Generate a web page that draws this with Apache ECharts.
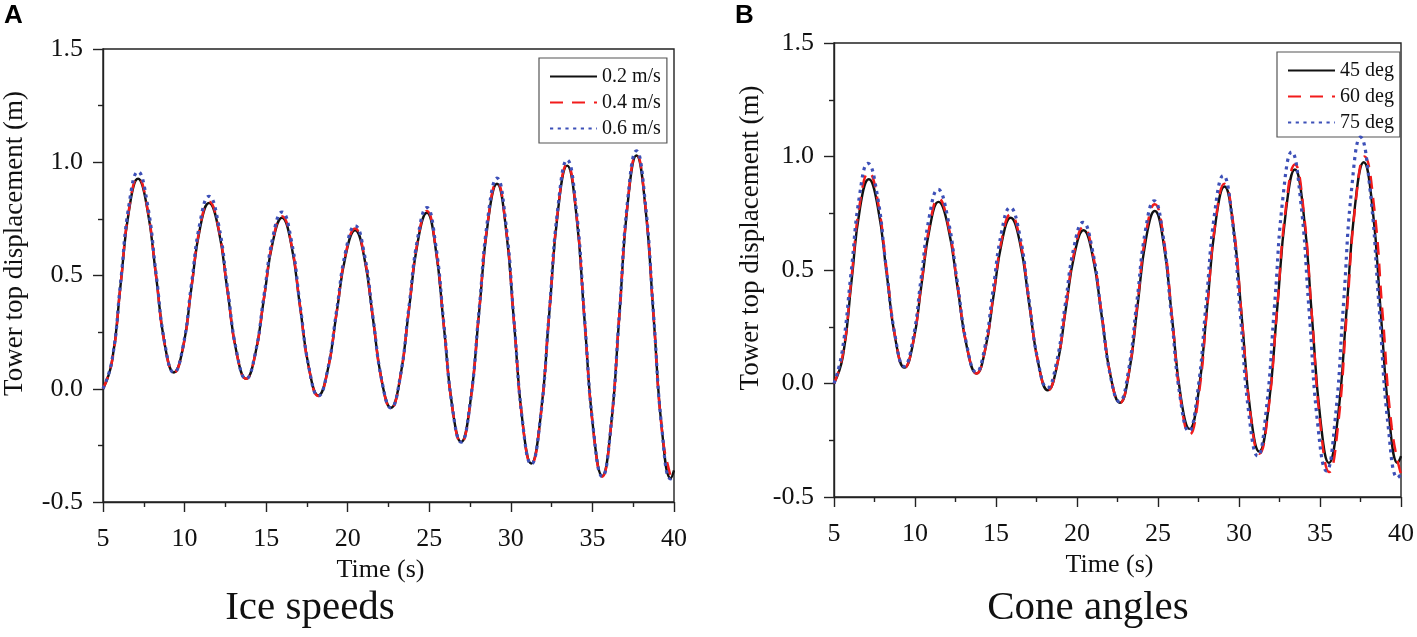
<!DOCTYPE html>
<html>
<head>
<meta charset="utf-8">
<script src="https://cdn.jsdelivr.net/npm/echarts@6/dist/echarts.min.js"></script>
<style>
html,body{margin:0;padding:0;background:#fff;}
#chart{width:1417px;height:637px;}
</style>
</head>
<body>
<div id="chart"></div>
<script>
// ---- Panel A: ice speeds ----
const tA = [5.0, 5.55, 6.08, 6.6, 7.15, 7.7, 8.25, 8.8, 9.35, 9.9, 10.42, 10.95, 11.5, 12.07, 12.63, 13.2, 13.77, 14.32, 14.87, 15.42, 15.97, 16.53, 17.08, 17.64, 18.2, 18.76, 19.32, 19.89, 20.45, 21.0, 21.55, 22.1, 22.65, 23.2, 23.75, 24.3, 24.85, 25.37, 25.9, 26.42, 26.95, 27.5, 28.05, 28.6, 29.15, 29.67, 30.2, 30.72, 31.25, 31.8, 32.35, 32.9, 33.45, 33.99, 34.52, 35.06, 35.6, 36.12, 36.65, 37.17, 37.7, 38.22, 38.75, 39.27, 39.8, 40.0];
const yA02 = [0.0, 0.12, 0.46, 0.79, 0.927, 0.80, 0.50, 0.19, 0.072, 0.18, 0.446, 0.71, 0.82, 0.707, 0.432, 0.155, 0.044, 0.148, 0.40, 0.652, 0.755, 0.64, 0.362, 0.085, -0.03, 0.077, 0.335, 0.594, 0.70, 0.585, 0.308, 0.03, -0.084, 0.042, 0.347, 0.651, 0.777, 0.629, 0.271, -0.087, -0.235, -0.069, 0.335, 0.738, 0.905, 0.725, 0.288, -0.15, -0.33, -0.138, 0.328, 0.793, 0.985, 0.785, 0.30, -0.185, -0.385, -0.178, 0.323, 0.823, 1.03, 0.82, 0.318, -0.187, -0.395, -0.36];
const yA04 = [0.0, 0.12, 0.46, 0.795, 0.932, 0.805, 0.50, 0.19, 0.072, 0.18, 0.447, 0.715, 0.826, 0.712, 0.433, 0.155, 0.044, 0.148, 0.402, 0.657, 0.762, 0.645, 0.364, 0.085, -0.032, 0.077, 0.337, 0.6, 0.707, 0.59, 0.31, 0.03, -0.086, 0.042, 0.35, 0.657, 0.785, 0.634, 0.273, -0.087, -0.238, -0.069, 0.338, 0.744, 0.912, 0.73, 0.29, -0.15, -0.333, -0.138, 0.33, 0.798, 0.992, 0.79, 0.302, -0.186, -0.388, -0.178, 0.326, 0.828, 1.035, 0.825, 0.32, -0.19, -0.39, -0.41];
const yA06 = [0.0, 0.125, 0.47, 0.815, 0.958, 0.825, 0.51, 0.195, 0.072, 0.185, 0.46, 0.735, 0.85, 0.73, 0.445, 0.16, 0.044, 0.152, 0.412, 0.672, 0.78, 0.66, 0.37, 0.087, -0.032, 0.08, 0.345, 0.612, 0.72, 0.602, 0.315, 0.032, -0.085, 0.045, 0.358, 0.67, 0.80, 0.648, 0.28, -0.085, -0.236, -0.066, 0.345, 0.76, 0.93, 0.745, 0.295, -0.148, -0.333, -0.137, 0.335, 0.81, 1.01, 0.805, 0.308, -0.182, -0.388, -0.176, 0.33, 0.84, 1.05, 0.835, 0.325, -0.186, -0.398, -0.38];

// ---- Panel B: cone angles ----
const tB45 = [5.0, 5.55, 6.08, 6.6, 7.15, 7.7, 8.25, 8.8, 9.35, 9.88, 10.4, 10.93, 11.45, 12.04, 12.63, 13.22, 13.8, 14.32, 14.85, 15.38, 15.9, 16.48, 17.05, 17.63, 18.2, 18.75, 19.3, 19.85, 20.4, 20.96, 21.53, 22.09, 22.65, 23.19, 23.73, 24.26, 24.8, 25.34, 25.88, 26.41, 26.95, 27.49, 28.03, 28.56, 29.1, 29.64, 30.18, 30.71, 31.25, 31.8, 32.35, 32.9, 33.45, 33.98, 34.5, 35.03, 35.55, 36.09, 36.63, 37.16, 37.7, 38.23, 38.75, 39.28, 39.8, 40.0];
const yB45 = [0.0, 0.12, 0.45, 0.77, 0.90, 0.779, 0.485, 0.191, 0.07, 0.177, 0.435, 0.693, 0.80, 0.69, 0.422, 0.154, 0.044, 0.144, 0.387, 0.63, 0.73, 0.619, 0.35, 0.081, -0.03, 0.073, 0.323, 0.572, 0.675, 0.564, 0.295, 0.026, -0.085, 0.038, 0.338, 0.637, 0.76, 0.62, 0.28, -0.06, -0.20, -0.044, 0.334, 0.712, 0.868, 0.697, 0.284, -0.129, -0.30, -0.118, 0.322, 0.762, 0.943, 0.754, 0.297, -0.161, -0.35, -0.157, 0.313, 0.782, 0.975, 0.782, 0.313, -0.157, -0.35, -0.32];
const tB60 = [5.0, 5.55, 6.08, 6.6, 7.15, 7.7, 8.25, 8.8, 9.35, 9.88, 10.4, 10.93, 11.45, 12.04, 12.63, 13.22, 13.8, 14.32, 14.85, 15.38, 15.9, 16.48, 17.05, 17.63, 18.2, 18.75, 19.3, 19.85, 20.4, 20.96, 21.53, 22.09, 22.65, 23.19, 23.73, 24.26, 24.8, 25.34, 25.88, 26.41, 26.95, 27.49, 28.03, 28.56, 29.1, 29.64, 30.18, 30.71, 31.25, 31.8, 32.35, 32.9, 33.45, 33.98, 34.51, 35.04, 35.57, 36.11, 36.65, 37.2, 37.75, 38.31, 38.87, 39.43, 40.0];
const yB60 = [0.0, 0.13, 0.465, 0.795, 0.93, 0.804, 0.50, 0.196, 0.07, 0.179, 0.443, 0.706, 0.815, 0.702, 0.43, 0.157, 0.044, 0.146, 0.395, 0.643, 0.745, 0.632, 0.358, 0.083, -0.03, 0.075, 0.33, 0.585, 0.69, 0.577, 0.303, 0.028, -0.085, 0.043, 0.353, 0.662, 0.79, 0.642, 0.283, -0.077, -0.225, -0.064, 0.328, 0.719, 0.88, 0.706, 0.285, -0.136, -0.31, -0.124, 0.328, 0.779, 0.965, 0.767, 0.288, -0.192, -0.39, -0.187, 0.305, 0.797, 1.0, 0.796, 0.30, -0.196, -0.40];
const tB75 = [5.0, 5.5, 6.05, 6.58, 7.1, 7.65, 8.2, 8.78, 9.33, 9.86, 10.38, 10.9, 11.42, 12.0, 12.6, 13.2, 13.78, 14.3, 14.82, 15.35, 15.87, 16.45, 17.02, 17.6, 18.17, 18.72, 19.27, 19.82, 20.37, 20.93, 21.5, 22.06, 22.62, 23.16, 23.7, 24.23, 24.76, 25.3, 25.83, 26.37, 26.9, 27.43, 27.97, 28.5, 29.03, 29.56, 30.09, 30.62, 31.15, 31.67, 32.2, 32.72, 33.25, 33.79, 34.33, 34.86, 35.4, 35.92, 36.45, 36.97, 37.5, 38.07, 38.65, 39.22, 39.8, 40.0];
const yB75 = [0.0, 0.14, 0.485, 0.83, 0.97, 0.839, 0.523, 0.206, 0.075, 0.189, 0.465, 0.741, 0.855, 0.737, 0.453, 0.168, 0.05, 0.156, 0.413, 0.669, 0.775, 0.659, 0.378, 0.096, -0.02, 0.087, 0.345, 0.603, 0.71, 0.595, 0.315, 0.035, -0.08, 0.049, 0.363, 0.676, 0.805, 0.657, 0.298, -0.062, -0.21, -0.046, 0.353, 0.752, 0.916, 0.736, 0.298, -0.14, -0.32, -0.124, 0.35, 0.824, 1.02, 0.815, 0.318, -0.18, -0.385, -0.17, 0.35, 0.87, 1.085, 0.866, 0.335, -0.196, -0.415, -0.40];

const namesA = ['0.2 m/s', '0.4 m/s', '0.6 m/s'];
const namesB = ['45 deg', '60 deg', '75 deg'];
const xTicks = [5, 10, 15, 20, 25, 30, 35, 40];
const yTicks = [-0.5, 0.0, 0.5, 1.0, 1.5];

const SERIF = '"Liberation Serif", "Times New Roman", serif';
const AX = '#222';
const COLORS = ['#111111', '#f21b1b', '#3d50b8'];
const STYLES = [
  {type: 'solid', width: 2.4},
  {type: [13, 9], width: 2.5},
  {type: [3.2, 4.5], width: 3.2}
];

function pairs(t, y) { return t.map((v, i) => [v, y[i]]); }

function xAxis(gridIndex) {
  return {
    type: 'value', gridIndex, min: xTicks[0], max: xTicks[xTicks.length - 1], interval: 5,
    name: 'Time (s)', nameLocation: 'middle', nameGap: 45,
    nameTextStyle: {fontFamily: SERIF, fontSize: 26, color: '#111', padding: [0, 16, 0, 0]},
    axisLine: {show: true, onZero: false, lineStyle: {color: AX, width: 1.4}},
    axisTick: {show: true, inside: false, length: 10, lineStyle: {color: AX, width: 1.4}},
    minorTick: {show: true, splitNumber: 2, length: 5, lineStyle: {color: AX, width: 1.4}},
    splitLine: {show: false},
    axisLabel: {fontFamily: SERIF, fontSize: 26, color: '#111', margin: 24}
  };
}
function yAxis(gridIndex, gap) {
  return {
    type: 'value', gridIndex, min: yTicks[0], max: yTicks[yTicks.length - 1], interval: 0.5,
    name: 'Tower top displacement (m)', nameLocation: 'middle', nameGap: gap,
    nameTextStyle: {fontFamily: SERIF, fontSize: 27, color: '#111', padding: [0, 0, 0, 64]},
    axisLine: {show: true, onZero: false, lineStyle: {color: AX, width: 1.4}},
    axisTick: {show: true, inside: false, length: 10, lineStyle: {color: AX, width: 1.4}},
    minorTick: {show: true, splitNumber: 2, length: 5, lineStyle: {color: AX, width: 1.4}},
    splitLine: {show: false},
    axisLabel: {fontFamily: SERIF, fontSize: 26, color: '#111', margin: 20,
      formatter: v => v.toFixed(1)}
  };
}
function series(name, t, y, k, idx) {
  return {
    name, type: 'line', xAxisIndex: idx, yAxisIndex: idx,
    data: pairs(t, y), smooth: 0.5, symbol: 'none', showSymbol: false,
    lineStyle: Object.assign({color: COLORS[k], cap: 'butt'}, STYLES[k]),
    itemStyle: {color: COLORS[k]},
    z: 2 + k, animation: false
  };
}
function legend(names, left, top) {
  return {
    data: names, left, top, orient: 'vertical',
    itemWidth: 47, itemHeight: 14, itemGap: 5,
    padding: [8, 6, 4, 10],
    borderColor: '#555', borderWidth: 1.2, backgroundColor: '#fff',
    itemStyle: {opacity: 0},
    textStyle: {fontFamily: SERIF, fontSize: 20, color: '#111', lineHeight: 21},
    selectedMode: false
  };
}

const chart = echarts.init(document.getElementById('chart'), null, {renderer: 'canvas'});
chart.setOption({
  animation: false,
  backgroundColor: '#fff',
  grid: [
    {left: 103, right: 1417 - 674, top: 49, bottom: 637 - 502, show: true, borderColor: AX, borderWidth: 1.4, backgroundColor: 'transparent'},
    {left: 834, right: 1417 - 1405, top: 43, bottom: 637 - 497, show: true, borderColor: AX, borderWidth: 1.4, backgroundColor: 'transparent'}
  ],
  xAxis: [xAxis(0), xAxis(1)],
  yAxis: [yAxis(0, 75), yAxis(1, 70)],
  legend: [legend(namesA, 539, 58), legend(namesB, 1277, 52)],
  series: [
    series(namesA[0], tA, yA02, 0, 0),
    series(namesA[1], tA, yA04, 1, 0),
    series(namesA[2], tA, yA06, 2, 0),
    series(namesB[0], tB45, yB45, 0, 1),
    series(namesB[1], tB60, yB60, 1, 1),
    series(namesB[2], tB75, yB75, 2, 1)
  ],
  graphic: [
    {type: 'text', left: 4, top: 3, style: {text: 'A', font: 'bold 26px "Liberation Sans", Arial, sans-serif', fill: '#000'}},
    {type: 'text', left: 735, top: 3, style: {text: 'B', font: 'bold 26px "Liberation Sans", Arial, sans-serif', fill: '#000'}},
    {type: 'text', x: 310, y: 608, style: {text: 'Ice speeds', font: '41px ' + SERIF, fill: '#111', textAlign: 'center', textVerticalAlign: 'middle'}},
    {type: 'text', x: 1088, y: 608, style: {text: 'Cone angles', font: '41px ' + SERIF, fill: '#111', textAlign: 'center', textVerticalAlign: 'middle'}}
  ]
});
</script>
</body>
</html>
